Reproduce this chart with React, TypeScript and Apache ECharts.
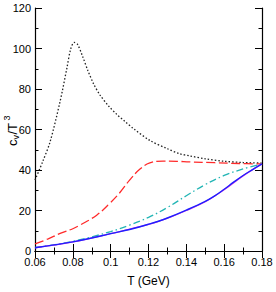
import React, { useEffect, useRef } from "react";
import * as echarts from "echarts";

const xTicks = [0.06, 0.08, 0.1, 0.12, 0.14, 0.16, 0.18];
const yTicks = [0, 20, 40, 60, 80, 100, 120];

const tBlack = [0.06, 0.064, 0.068, 0.0733, 0.0768, 0.0788, 0.0807, 0.0825, 0.085, 0.088, 0.091, 0.0944, 0.099, 0.1032, 0.1075, 0.112, 0.1207, 0.13, 0.1365, 0.1417, 0.15, 0.16, 0.17, 0.18];
const cvBlack = [35, 44, 54, 74, 90, 99.5, 103, 102, 96.5, 89, 82.5, 77, 71.5, 67.5, 64, 60.5, 54.6, 50.5, 48, 47, 45.5, 44.3, 43.7, 43.4];

const tRed = [0.06, 0.067, 0.0733, 0.08, 0.0838, 0.0926, 0.1, 0.105, 0.11, 0.1155, 0.1207, 0.1277, 0.135, 0.1417, 0.155, 0.168, 0.18];
const cvRed = [3.5, 6, 8.7, 11, 12.8, 17.7, 24, 29, 35, 40.5, 43.5, 44.4, 44.3, 44, 43.6, 43.2, 43];

const tCyan = [0.06, 0.07, 0.08, 0.09, 0.1, 0.11, 0.12, 0.13, 0.14, 0.15, 0.16, 0.17, 0.18];
const cvCyan = [1.8, 3.0, 4.8, 7.0, 9.6, 12.8, 16.6, 21.5, 27.3, 32.8, 37.3, 40.5, 43];

const tBlue = [0.06, 0.07, 0.08, 0.09, 0.1, 0.11, 0.12, 0.13, 0.14, 0.15, 0.155, 0.16, 0.165, 0.17, 0.175, 0.18];
const cvBlue = [1.6, 3.0, 4.5, 6.4, 8.6, 10.6, 13.2, 16.3, 20.2, 24.5, 27.2, 30.5, 34, 37.3, 40.2, 43];

const tMagenta = [0.06, 0.08, 0.1, 0.12, 0.13, 0.14, 0.15, 0.16, 0.17, 0.18];
const cvMagenta = [1.6, 4.5, 8.6, 13.1, 16.2, 20.0, 24.3, 30.3, 37.1, 43];

const zip = (t: number[], v: number[]) => t.map((x, i) => [x, v[i]]);

const FONT = "Liberation Sans";

export default function App() {
  const ref = useRef<HTMLDivElement>(null);
  useEffect(() => {
    document.body.style.margin = "0";
    if (!ref.current) return;
    const chart = echarts.init(ref.current, undefined, { renderer: "svg" });
    const axisCommon = {
      type: "value" as const,
      axisLine: { show: true, lineStyle: { color: "#000", width: 1.2 } },
      splitLine: { show: false },
      axisTick: { show: true, inside: true, length: 7, lineStyle: { color: "#000", width: 1 } },
      minorTick: { show: true, splitNumber: 2, length: 3.5, lineStyle: { color: "#000", width: 1 } },
    };
    const xMin = xTicks[0];
    const xMax = xTicks[xTicks.length - 1];
    const yMin = yTicks[0];
    const yMax = yTicks[yTicks.length - 1];
    chart.setOption({
      animation: false,
      grid: { left: 35, right: 14, top: 8, bottom: 41 },
      xAxis: [
        {
          ...axisCommon,
          min: xMin,
          max: xMax,
          interval: 0.02,
          position: "bottom",
          name: "T (GeV)",
          nameLocation: "middle",
          nameGap: 24,
          nameTextStyle: { fontFamily: FONT, fontSize: 12, color: "#000" },
          axisLabel: {
            fontFamily: FONT,
            fontSize: 11,
            color: "#000",
            margin: 5,
            formatter: (v: number) => String(+v.toFixed(2)),
          },
        },
        {
          ...axisCommon,
          min: xMin,
          max: xMax,
          interval: 0.02,
          position: "top",
          axisLabel: { show: false },
        },
      ],
      yAxis: [
        {
          ...axisCommon,
          min: yMin,
          max: yMax,
          interval: 20,
          position: "left",
          axisLabel: { fontFamily: FONT, fontSize: 11, color: "#000", margin: 4 },
        },
        {
          ...axisCommon,
          min: yMin,
          max: yMax,
          interval: 20,
          position: "right",
          axisLabel: { show: false },
        },
      ],
      graphic: [
        {
          type: "group",
          x: 12,
          y: 131,
          rotation: Math.PI / 2,
          children: [
            { type: "text", x: -15, y: 0, style: { text: "c", fontFamily: FONT, fontSize: 13, fill: "#000", verticalAlign: "middle", align: "left" } },
            { type: "text", x: -8.5, y: 3.5, style: { text: "v", fontFamily: FONT, fontSize: 9, fill: "#000", verticalAlign: "middle", align: "left" } },
            { type: "text", x: -3.5, y: 0, style: { text: "/T", fontFamily: FONT, fontSize: 13, fill: "#000", verticalAlign: "middle", align: "left" } },
            { type: "text", x: 10.5, y: -5, style: { text: "3", fontFamily: FONT, fontSize: 9, fill: "#000", verticalAlign: "middle", align: "left" } },
          ],
        },
      ],
      series: [
        {
          type: "line",
          data: zip(tBlack, cvBlack),
          smooth: 0.3,
          showSymbol: false,
          lineStyle: { color: "#222", width: 1.3, type: [1.5, 2] },
        },
        {
          type: "line",
          data: zip(tRed, cvRed),
          smooth: 0.4,
          showSymbol: false,
          lineStyle: { color: "#ff2a2a", width: 1.3, type: [9, 3.5] },
        },
        {
          type: "line",
          data: zip(tCyan, cvCyan),
          smooth: 0.4,
          showSymbol: false,
          lineStyle: { color: "#22b5b5", width: 1.3, type: [7, 3, 1.5, 3] },
        },
        {
          type: "line",
          data: zip(tMagenta, cvMagenta),
          smooth: 0.4,
          showSymbol: false,
          lineStyle: { color: "#e040e0", width: 1.3 },
        },
        {
          type: "line",
          data: zip(tBlue, cvBlue),
          smooth: 0.4,
          showSymbol: false,
          lineStyle: { color: "#1f1fff", width: 1.4 },
        },
      ],
    });
    return () => chart.dispose();
  }, []);
  return <div ref={ref} style={{ width: 276, height: 292 }} />;
}
